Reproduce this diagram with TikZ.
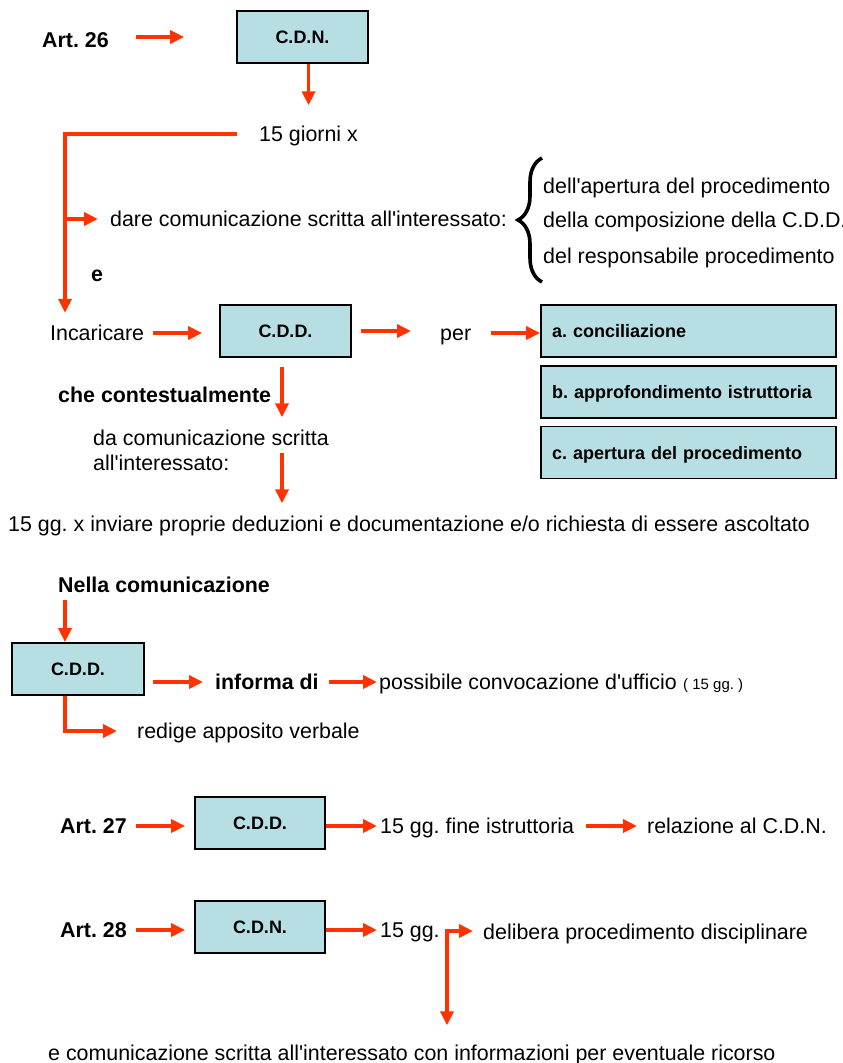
\documentclass[tikz,border=0pt]{standalone}
\usepackage{fontspec}
\setmainfont{Liberation Sans}[Ligatures=TeXOff]
\usetikzlibrary{arrows.meta,decorations.pathreplacing}
\definecolor{arrred}{RGB}{255,51,0}
\definecolor{boxfill}{RGB}{183,222,226}
\frenchspacing
\begin{document}
\begin{tikzpicture}[x=1pt,y=-1pt,
  txt/.style={inner sep=0pt, anchor=west, text height=15pt, text depth=0pt, font=\fontsize{21.4}{25}\selectfont},
  btxt/.style={txt, font=\fontsize{21.4}{25}\selectfont\bfseries},
  box/.style={draw=black, line width=1.8pt, fill=boxfill, minimum width=131pt, minimum height=52pt, inner sep=0pt, text height=13pt, text depth=0pt, font=\fontsize{18}{21}\selectfont\bfseries},
  wbox/.style={box, minimum width=295pt, text width=273pt, align=left},
  arr/.style={color=arrred, line width=3.5pt, -{Triangle[length=14pt,width=13pt]}},
  bracestyle/.style={decorate, decoration={brace, amplitude=24pt}, line width=3.6pt},
]
\useasboundingbox (0,0) rectangle (843,1063);

% ---- Art. 26
\node[box] (cdn1) at (302.5,37) {C.D.N.};
\node[btxt] (art26) at (42,40) {Art. 26};
\draw[arr, shorten <=27pt, shorten >=52pt] (cdn1.west -| art26.east) -- (cdn1.west);
\node[txt] (giorni) at (259,134) {15 giorni x};
\draw[arr, shorten >=21pt] (cdn1.south -| giorni.north) -- (giorni.north);
\node[txt] (dare) at (110,219) {dare comunicazione scritta all'interessato:};
\node[txt] (incaricare) at (50,333) {Incaricare};
\coordinate (trunk) at (65,134);
\draw[arr, shorten <=22pt, shorten >=12.5pt] (giorni.west) -| (trunk |- incaricare.north);
\draw[arr, shorten >=12pt] (trunk |- dare.west) -- (dare.west);
\node[btxt] (e) at (91,274) {e};

\draw[bracestyle] (542,282) -- (542,158);
\node[txt] (l1) at (543,186) {dell'apertura del procedimento};
\node[txt] (l2) at (543,220) {della composizione della C.D.D.};
\node[txt] (l3) at (543,256) {del responsabile procedimento};

\node[box] (cdd1) at (285.5,331) {C.D.D.};
\draw[arr, shorten <=9pt, shorten >=17pt] (incaricare.east) -- (incaricare.east -| cdd1.west);
\node[txt] (per) at (440,333) {per};
\draw[arr, shorten <=9pt, shorten >=29pt] (cdd1.east) -- (cdd1.east -| per.west);
\node[wbox] (boxa) at (688.5,331) {a. conciliazione};
\node[wbox] (boxb) at (688.5,392) {b. approfondimento istruttoria};
\node[wbox] (boxc) at (688.5,452.5) {c. apertura del procedimento};
\draw[arr, shorten <=20pt] (per.east) -- (per.east -| boxa.west);

\node[btxt] (che) at (58,395) {che contestualmente};
\node[txt] (da1) at (93,438) {da comunicazione scritta};
\node[txt] (da2) at (93,463) {all'interessato:};
\coordinate (col) at (282,0);
\draw[arr, shorten <=9pt, shorten >=13pt] (col |- cdd1.south) -- (col |- da1.north);
\node[txt] (gg15) at (8,524) {15 gg. x inviare proprie deduzioni e documentazione e/o richiesta di essere ascoltato};
\draw[arr, shorten <=-2pt, shorten >=13pt] (col |- da2.north) -- (col |- gg15.north);

% ---- Nella comunicazione
\node[btxt] (nella) at (58,585) {Nella comunicazione};
\node[box, minimum width=132pt] (cdd2) at (78,669) {C.D.D.};
\coordinate (col2) at (65,0);
\draw[arr, shorten <=7pt] (col2 |- nella.south) -- (col2 |- cdd2.north);
\node[btxt] (informa) at (215,682) {informa di};
\draw[arr, shorten <=8pt, shorten >=12pt] (informa.west -| cdd2.east) -- (informa.west);
\node[txt] (possibile) at (379,682) {possibile convocazione d'ufficio};
\draw[arr, shorten <=10pt, shorten >=2pt] (informa.east) -- (possibile.west);
\node[txt, font=\fontsize{15}{18}\selectfont, text height=11pt] (paren) at (683,684) {( 15 gg. )};
\node[txt] (redige) at (137,731) {redige apposito verbale};
\draw[arr, shorten >=20pt] (col2 |- cdd2.south) |- (redige.west);

% ---- Art. 27
\node[btxt] (art27) at (60,826) {Art. 27};
\node[box, minimum width=130pt] (cdd3) at (260,823) {C.D.D.};
\draw[arr, shorten <=9pt, shorten >=9pt] (art27.east) -- (art27.east -| cdd3.west);
\node[txt] (fine) at (380,826) {15 gg. fine istruttoria};
\draw[arr, shorten >=3pt] (fine.west -| cdd3.east) -- (fine.west);
\node[txt] (relazione) at (647,826) {relazione al C.D.N.};
\draw[arr, shorten <=12pt, shorten >=10pt] (fine.east) -- (relazione.west);

% ---- Art. 28
\node[btxt] (art28) at (60,930) {Art. 28};
\node[box, minimum width=130pt] (cdn2) at (260,927) {C.D.N.};
\draw[arr, shorten <=9pt, shorten >=9pt] (art28.east) -- (art28.east -| cdn2.west);
\node[txt] (gg15b) at (380,930) {15 gg.};
\draw[arr, shorten >=3pt] (gg15b.west -| cdn2.east) -- (gg15b.west);
\node[txt] (delibera) at (483,932) {delibera procedimento disciplinare};
\node[txt] (ricorso) at (48,1053) {e comunicazione scritta all'interessato con informazioni per eventuale ricorso};
\coordinate (split) at (447,931);
\draw[arr, shorten <=-1.75pt, shorten >=10pt] (split) -- (split -| delibera.west);
\draw[arr, shorten <=-1.75pt, shorten >=20pt] (split) -- (split |- ricorso.north);
\end{tikzpicture}
\end{document}
